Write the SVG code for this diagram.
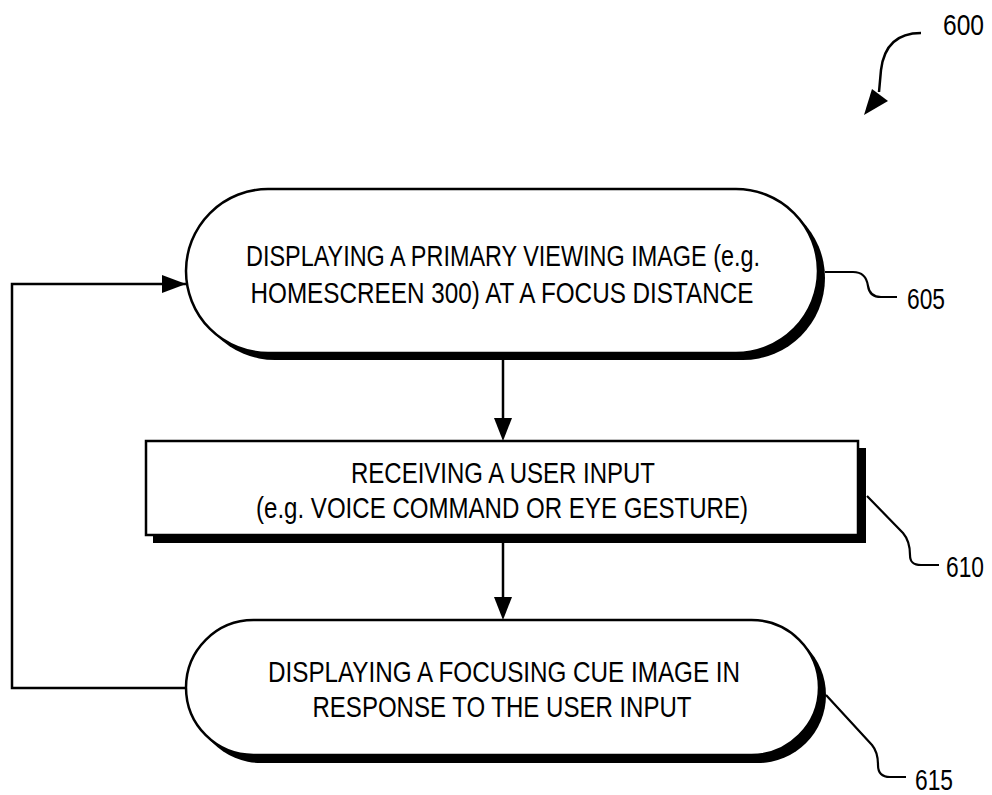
<svg xmlns="http://www.w3.org/2000/svg" width="992" height="795" viewBox="0 0 992 795">
  <style>
    .label { font-family: "Liberation Sans", Arial, sans-serif; font-size: 30px; fill: #000; }
    .num { font-family: "Liberation Sans", Arial, sans-serif; font-size: 30px; fill: #000; }
    .mid { text-anchor: middle; }
    .outline { fill: #fff; stroke: #000; stroke-width: 2.5; }
    .shadow { fill: #000; stroke: none; }
    .wire { fill: none; stroke: #000; stroke-width: 2.5; }
    .lead { fill: none; stroke: #000; stroke-width: 2.2; }
  </style>
  <defs>
    <marker id="head" viewBox="0 0 24 18" refX="24" refY="9" markerWidth="24" markerHeight="18" markerUnits="userSpaceOnUse" orient="auto">
      <path d="M0 0 L24 9 L0 18 Z" fill="#000"/>
    </marker>
  </defs>

  <rect width="992" height="795" fill="#fff"/>

  <!-- figure reference numeral with curved pointer -->
  <g id="fig-ref">
    <text class="num" transform="translate(943 35) scale(0.82 1)">600</text>
    <path class="wire" d="M921 33 C898 33 884 45 881 70 L879 92"/>
    <path d="M872 89 L888 101 L864 115 Z" fill="#000"/>
  </g>

  <!-- step 605 -->
  <g id="step-605">
    <rect class="shadow" x="193" y="196" width="632" height="164" rx="82" ry="82"/>
    <rect class="outline" x="186" y="189" width="632" height="164" rx="82" ry="82"/>
    <text class="label mid" x="503" y="266" textLength="514" lengthAdjust="spacingAndGlyphs">DISPLAYING A PRIMARY VIEWING IMAGE (e.g.</text>
    <text class="label mid" x="502" y="303" textLength="503" lengthAdjust="spacingAndGlyphs">HOMESCREEN 300) AT A FOCUS DISTANCE</text>
    <path class="lead" d="M825 272 L853 272 C864 272 867 279 868 286 C869 293 873 297 881 297 L897 297"/>
    <text class="num" transform="translate(907 309) scale(0.76 1)">605</text>
  </g>

  <!-- step 610 -->
  <g id="step-610">
    <rect class="shadow" x="153" y="448" width="713" height="95"/>
    <rect class="outline" x="146" y="441" width="712" height="94"/>
    <text class="label mid" x="503" y="483" textLength="304" lengthAdjust="spacingAndGlyphs">RECEIVING A USER INPUT</text>
    <text class="label mid" x="502" y="518" textLength="492" lengthAdjust="spacingAndGlyphs">(e.g. VOICE COMMAND OR EYE GESTURE)</text>
    <path class="lead" d="M867 496 L903 533 C909 540 910 548 910 555 C910 562 913 565 921 565 L939 565"/>
    <text class="num" transform="translate(946 577) scale(0.76 1)">610</text>
  </g>

  <!-- step 615 -->
  <g id="step-615">
    <rect class="shadow" x="193" y="627" width="633" height="136" rx="68" ry="68"/>
    <rect class="outline" x="186" y="620" width="633" height="135" rx="67.5" ry="67.5"/>
    <text class="label mid" x="504" y="682" textLength="472" lengthAdjust="spacingAndGlyphs">DISPLAYING A FOCUSING CUE IMAGE IN</text>
    <text class="label mid" x="502" y="717" textLength="379" lengthAdjust="spacingAndGlyphs">RESPONSE TO THE USER INPUT</text>
    <path class="lead" d="M826 695 L872 745 C877 751 878 758 878 765 C878 773 882 777 890 777 L906 777"/>
    <text class="num" transform="translate(915 790) scale(0.76 1)">615</text>
  </g>

  <!-- connectors -->
  <g id="connectors">
    <path class="wire" d="M503 360 L503 420"/>
    <path d="M494 418 L512 418 L503 441 Z" fill="#000"/>
    <path class="wire" d="M503 543 L503 599"/>
    <path d="M494 597 L512 597 L503 620 Z" fill="#000"/>
    <path class="wire" d="M186 688 L12 688 L12 284 L186 284" marker-end="url(#head)"/>
  </g>
</svg>
